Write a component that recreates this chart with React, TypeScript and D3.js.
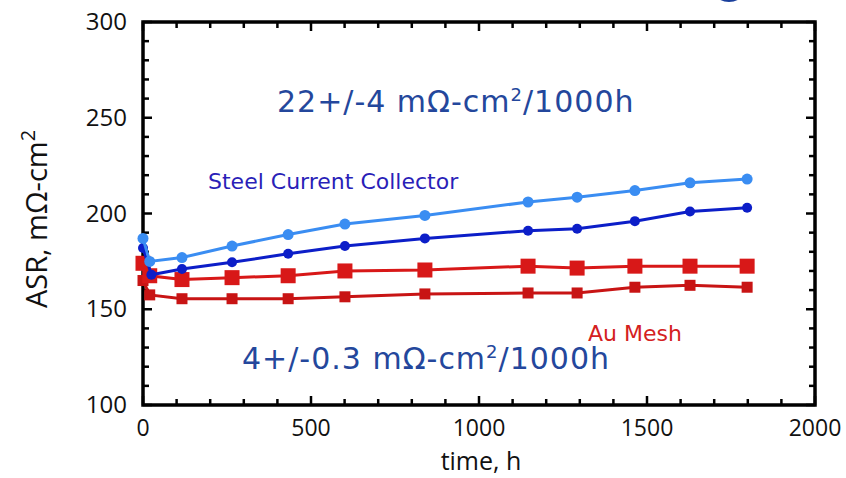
import React from "react";
import * as d3 from "d3";

const W = 846;
const H = 478;

// time (h)
const steelLightTime = [0, 20, 116, 265, 432, 601, 839, 1146, 1292, 1464, 1628, 1798];
const steelLightASR = [187, 175, 177, 183, 189, 194.5, 199, 206, 208.5, 212, 216, 218];

const steelDarkTime = [0, 25, 116, 265, 432, 601, 839, 1146, 1292, 1464, 1628, 1798];
const steelDarkASR = [182, 168, 171, 174.5, 179, 183, 187, 191, 192, 196, 201, 203];

const auUpperTime = [0, 20, 116, 265, 432, 601, 839, 1146, 1292, 1464, 1628, 1798];
const auUpperASR = [174, 167.5, 165.5, 166.5, 167.5, 170, 170.5, 172.5, 171.5, 172.5, 172.5, 172.5];

const auLowerTime = [0, 20, 116, 265, 432, 601, 839, 1146, 1292, 1464, 1628, 1798];
const auLowerASR = [165, 157.5, 155.5, 155.5, 155.5, 156.5, 158, 158.5, 158.5, 161.5, 162.5, 161.5];

const xTicks = [0, 500, 1000, 1500, 2000];
const yTicks = [100, 150, 200, 250, 300];

const M = { left: 143, right: 815, top: 22, bottom: 405 };

export default function App() {
  const x = d3.scaleLinear().domain([0, 2000]).range([M.left, M.right]);
  const y = d3.scaleLinear().domain([100, 300]).range([M.bottom, M.top]);
  const line = d3
    .line<[number, number]>()
    .x((d) => x(d[0]))
    .y((d) => y(d[1]));

  const zip = (a: number[], b: number[]) => a.map((t, i) => [t, b[i]] as [number, number]);

  const series = [
    { data: zip(auLowerTime, auLowerASR), color: "#c81414", marker: "square", size: 11 },
    { data: zip(auUpperTime, auUpperASR), color: "#d81818", marker: "square", size: 15 },
    { data: zip(steelDarkTime, steelDarkASR), color: "#0c1ec8", marker: "circle", size: 5 },
    { data: zip(steelLightTime, steelLightASR), color: "#3a8df2", marker: "circle", size: 5.5 },
  ];

  const xMinor = d3.range(0, 2001, 100);
  const yMinor = d3.range(100, 301, 10);
  const tickFont = "'Open Sans', sans-serif";
  const annFont = "'DejaVu Sans', sans-serif";

  return (
    <svg
      width={W}
      height={H}
      style={{ position: "absolute", left: 0, top: 0, background: "#fff" }}
    >
      <ellipse cx={729} cy={-9} rx={15} ry={11} fill="#1a3f9c" />
      {/* ticks */}
      <g stroke="#000" strokeWidth={2.5}>
        {xMinor.map((t) => {
          const major = t % 500 === 0;
          const len = major ? 9 : 6;
          return (
            <g key={"x" + t}>
              <line x1={x(t)} x2={x(t)} y1={M.bottom} y2={M.bottom - len} />
              <line x1={x(t)} x2={x(t)} y1={M.top} y2={M.top + len} />
            </g>
          );
        })}
        {yMinor.map((t) => {
          const major = t % 50 === 0;
          const len = major ? 9 : 6;
          return (
            <g key={"y" + t}>
              <line x1={M.left} x2={M.left + len} y1={y(t)} y2={y(t)} />
              <line x1={M.right} x2={M.right - len} y1={y(t)} y2={y(t)} />
            </g>
          );
        })}
      </g>
      <rect
        x={M.left}
        y={M.top}
        width={M.right - M.left}
        height={M.bottom - M.top}
        fill="none"
        stroke="#000"
        strokeWidth={3.5}
      />
      {/* tick labels */}
      <g fontFamily={tickFont} fill="#111">
        {xTicks.map((t) => (
          <text key={"xl" + t} x={x(t)} y={436} fontSize={23} textAnchor="middle">
            {t}
          </text>
        ))}
        {yTicks.map((t) => (
          <text key={"yl" + t} x={127} y={y(t) + 8} fontSize={24} textAnchor="end">
            {t}
          </text>
        ))}
      </g>
      <text x={481} y={470} textAnchor="middle" fontFamily={tickFont} fontSize={25} fill="#111">
        time, h
      </text>
      <text
        transform={`translate(47,219) rotate(-90)`}
        textAnchor="middle"
        fontFamily={tickFont}
        fontSize={29}
        fill="#111"
      >
        ASR, mΩ-cm<tspan dy={-12} fontSize={20}>2</tspan>
      </text>
      {/* series */}
      {series.map((s, i) => (
        <g key={"s" + i}>
          <path d={line(s.data) || ""} fill="none" stroke={s.color} strokeWidth={3} />
          {s.data.map((d, j) =>
            s.marker === "circle" ? (
              <circle key={j} cx={x(d[0])} cy={y(d[1])} r={s.size} fill={s.color} />
            ) : (
              <rect
                key={j}
                x={x(d[0]) - s.size / 2}
                y={y(d[1]) - s.size / 2}
                width={s.size}
                height={s.size}
                fill={s.color}
              />
            )
          )}
        </g>
      ))}
      {/* annotations */}
      <text x={277} y={112} fontFamily={annFont} fontSize={30} letterSpacing={1} fill="#24479c">
        22+/-4 mΩ-cm<tspan dy={-11} fontSize={18}>2</tspan>
        <tspan dy={11}>/1000h</tspan>
      </text>
      <text x={242} y={369} fontFamily={annFont} fontSize={30} letterSpacing={1} fill="#24479c">
        4+/-0.3 mΩ-cm<tspan dy={-11} fontSize={18}>2</tspan>
        <tspan dy={11}>/1000h</tspan>
      </text>
      <text x={208} y={189} fontFamily={annFont} fontSize={22} fill="#2a1fb8">
        Steel Current Collector
      </text>
      <text x={588} y={341} fontFamily={annFont} fontSize={22} fill="#d42020">
        Au Mesh
      </text>
    </svg>
  );
}
